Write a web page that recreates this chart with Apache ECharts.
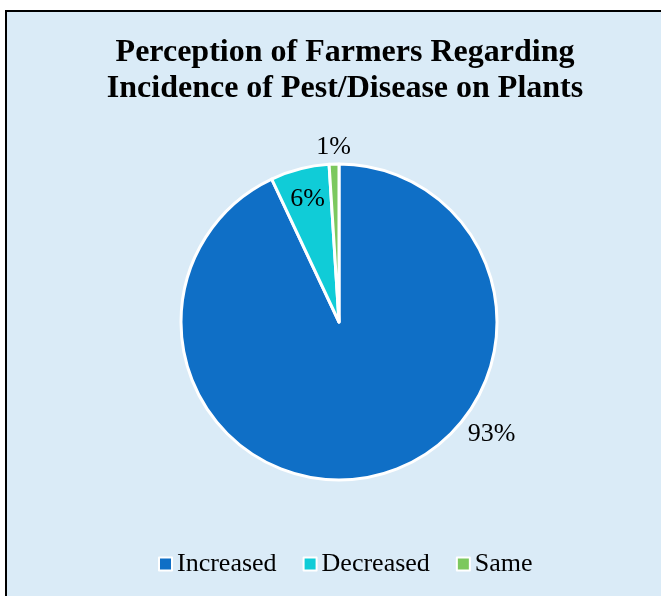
<!DOCTYPE html>
<html>
<head>
<meta charset="utf-8">
<script src="https://cdn.jsdelivr.net/npm/echarts@6/dist/echarts.min.js"></script>
<style>
html,body{margin:0;padding:0;background:#ffffff;width:661px;height:596px;overflow:hidden;}
#frame{position:absolute;left:5px;top:10px;width:670px;height:600px;background:#DAEBF7;border:2px solid #000;box-sizing:border-box;}
#chart{position:absolute;left:0;top:0;width:661px;height:596px;}
</style>
</head>
<body>
<div id="frame"></div>
<div id="chart"></div>
<script>
const titleLines = ['Perception of Farmers Regarding', 'Incidence of Pest/Disease on Plants'];
const categories = ['Increased', 'Decreased', 'Same'];
const values = [93, 6, 1];
const colors = ['#0F6FC6', '#10CCD7', '#7CC85E'];
const labelOffsets = [[88, -48], [-11, -43], [22, -11]];
const labelPositions = ['outside', 'inside', 'outside'];

const chart = echarts.init(document.getElementById('chart'), null, {renderer: 'canvas'});
const fontFamily = '"Liberation Serif", "Times New Roman", serif';
chart.setOption({
  backgroundColor: 'transparent',
  animation: false,
  title: {
    text: titleLines.join('\n'),
    left: 340,
    textAlign: 'center',
    top: 30,
    textStyle: {fontFamily: fontFamily, fontWeight: 'bold', fontSize: 32, lineHeight: 36, color: '#000'}
  },
  legend: {
    bottom: 14,
    left: 153,
    icon: 'rect',
    itemWidth: 13,
    itemHeight: 13,
    itemGap: 26,
    textStyle: {fontFamily: fontFamily, fontSize: 26, color: '#000'},
    data: categories
  },
  series: [{
    type: 'pie',
    center: [339, 322],
    radius: 158,
    startAngle: 90,
    clockwise: true,
    itemStyle: {borderColor: '#fff', borderWidth: 3},
    label: {fontFamily: fontFamily, fontSize: 26, color: '#000', formatter: '{c}%'},
    labelLine: {show: false, length: 6, length2: 0},
    emphasis: {disabled: true},
    data: categories.map((c, i) => ({
      name: c,
      value: values[i],
      itemStyle: {color: colors[i]},
      label: {position: labelPositions[i], offset: labelOffsets[i]}
    }))
  }]
});
</script>
</body>
</html>
